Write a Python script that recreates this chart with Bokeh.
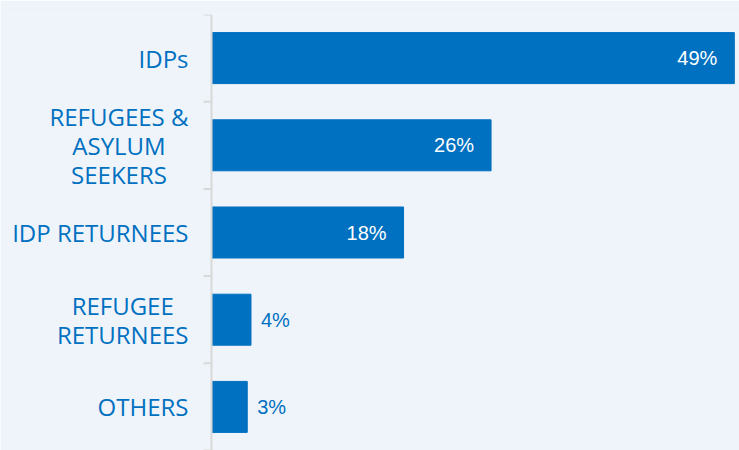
from bokeh.plotting import figure
from bokeh.models import Range1d, ColumnDataSource, Span
from bokeh.core.properties import value
from bokeh.embed import file_html
from bokeh.resources import INLINE

categories = ["IDPs", "REFUGEES &\nASYLUM\nSEEKERS", "IDP RETURNEES", "REFUGEE\nRETURNEES", "OTHERS"]
shares = [49, 26.2, 18, 3.7, 3.35]
share_labels = ["49%", "26%", "18%", "4%", "3%"]

BLUE = "#0070C0"
BG = "#EFF4FB"
GREY = "#D9D9D9"
n = len(categories)
pos = list(range(n))
bounds = [i - 0.5 for i in range(n + 1)]

W, H = 739, 450
AXIS_PX = 211          # horizontal pixel of the value axis
PX_PER_UNIT = 10.67
X0 = -AXIS_PX / PX_PER_UNIT
X1 = (W - AXIS_PX) / PX_PER_UNIT
TICK = 8 / PX_PER_UNIT

p = figure(width=W, height=H, output_backend="svg", toolbar_location=None,
           x_range=Range1d(X0, X1), y_range=Range1d(n - 0.5, -0.5),
           min_border_left=0, min_border_right=0, min_border_top=14, min_border_bottom=0)
p.background_fill_color = BG
p.border_fill_color = BG
p.outline_line_color = None
p.xgrid.visible = False
p.ygrid.visible = False
p.xaxis.visible = False
p.yaxis.visible = False

p.hbar(y=pos, left=0, right=shares, height=0.585, color=BLUE)

# value axis line and category boundary ticks
p.add_layout(Span(location=0, dimension="height", line_color=GREY, line_width=2))
p.segment(x0=[-TICK] * len(bounds), x1=[0] * len(bounds), y0=bounds, y1=bounds,
          line_color=GREY, line_width=2)

inside = [i for i in pos if shares[i] >= 10]
outside = [i for i in pos if shares[i] < 10]
src_in = ColumnDataSource(dict(x=[shares[i] for i in inside], y=inside, t=[share_labels[i] for i in inside]))
src_out = ColumnDataSource(dict(x=[shares[i] for i in outside], y=outside, t=[share_labels[i] for i in outside]))
p.text(x="x", y="y", text="t", source=src_in, text_color="white", text_align="right",
       text_baseline="middle", x_offset=-17, text_font=value("Liberation Sans"), text_font_size="20px")
p.text(x="x", y="y", text="t", source=src_out, text_color=BLUE, text_align="left",
       text_baseline="middle", x_offset=10, text_font=value("Liberation Sans"), text_font_size="20px")

src_cat = ColumnDataSource(dict(y=pos, t=categories))
p.text(x=0, y="y", text="t", source=src_cat, x_offset=-23, anchor="center_right",
       text_align="center", text_baseline="middle", text_color=BLUE,
       text_font=value("Open Sans"), text_font_size="24px", text_line_height=0.875)

open("out.html", "w").write(file_html(p, INLINE))
